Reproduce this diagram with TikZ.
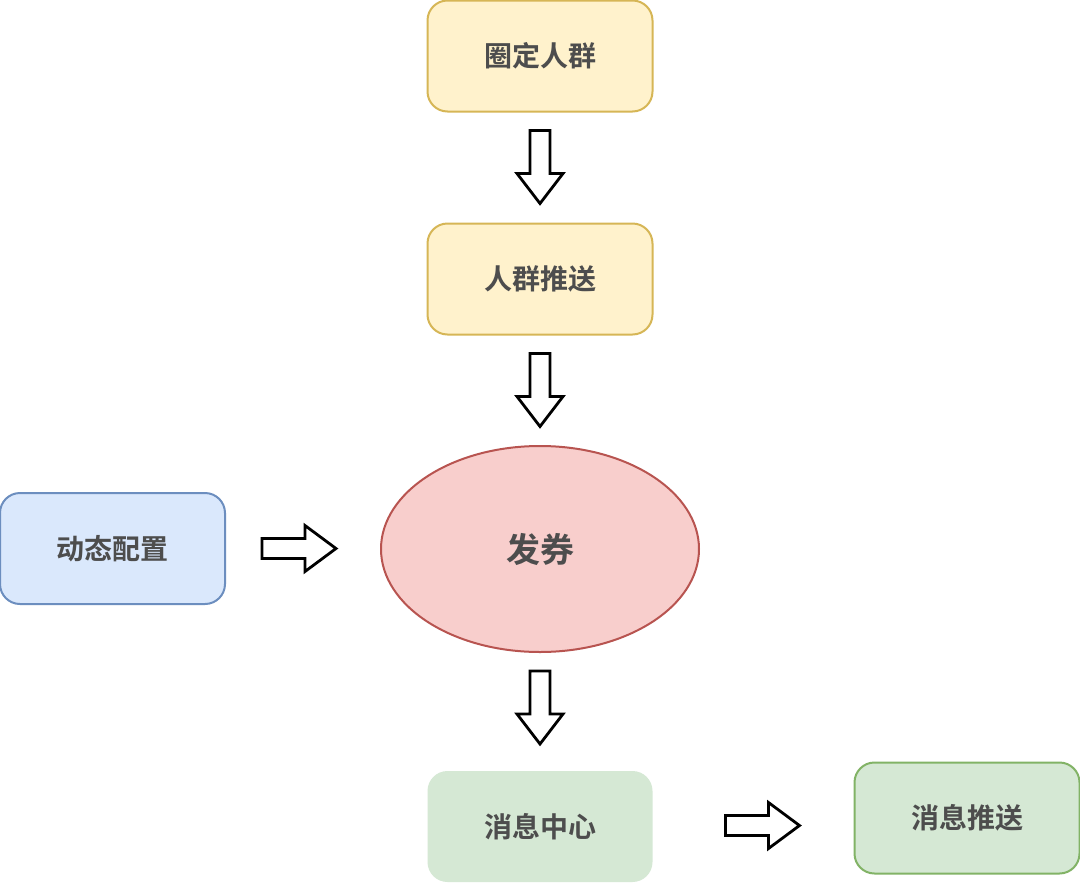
\documentclass[tikz,border=0pt]{standalone}
\usepackage{fontspec}
\newfontfamily\cjk{Noto Sans CJK SC}[BoldFont={Noto Sans CJK SC Bold}]
\usetikzlibrary{calc,shapes.geometric}
\definecolor{txt}{HTML}{4D4D4D}
\definecolor{yfill}{HTML}{FFF2CC}\definecolor{ydraw}{HTML}{D6B656}
\definecolor{rfill}{HTML}{F8CECC}\definecolor{rdraw}{HTML}{B85450}
\definecolor{bfill}{HTML}{DAE8FC}\definecolor{bdraw}{HTML}{6C8EBF}
\definecolor{gfill}{HTML}{D5E8D4}\definecolor{gdraw}{HTML}{82B366}
\tikzset{
  box/.style={rectangle, rounded corners=20pt, line width=2pt, minimum width=225pt, minimum height=111pt,
    inner sep=0pt, font=\cjk\bfseries\fontsize{28}{32}\selectfont, text=txt},
  arrowline/.style={draw=black, fill=white, line width=2.8pt, line join=miter},
  darrow/.pic={\path[arrowline] (-10,0) -- (10,0) -- (10,43) -- (23,43) -- (0,73) -- (-23,43) -- (-10,43) -- cycle;},
  rarrow/.pic={\path[arrowline] (0,-10) -- (0,10) -- (43,10) -- (43,23) -- (74,0) -- (43,-23) -- (43,-10) -- cycle;}
}
\begin{document}
\begin{tikzpicture}[x=1pt,y=-1pt]
\fill[white] (0,0) rectangle (1080,884);
\useasboundingbox (0,0) rectangle (1080,884);
\node[box, fill=yfill, draw=ydraw] (a) at (540,56) {圈定人群};
\node[box, fill=yfill, draw=ydraw] (b) at (540,279) {人群推送};
\node[ellipse, fill=rfill, draw=rdraw, line width=2pt, minimum width=318pt, minimum height=206pt, inner sep=0pt,
  font=\cjk\bfseries\fontsize{34}{38}\selectfont, text=txt] (c) at (540,549) {发券};
\node[box, fill=bfill, draw=bdraw] (d) at (112.5,548.5) {动态配置};
\node[box, fill=gfill, draw=none] (e) at (540,826.5) {消息中心};
\node[box, fill=gfill, draw=gdraw] (f) at (967,818) {消息推送};
\coordinate (a1) at ($(a.south)+(0,18)$);
\coordinate (a2) at ($(b.south)+(0,18)$);
\coordinate (a3) at ($(c.south)+(0,18)$);
\coordinate (a4) at ($(d.east)+(36,0)$);
\coordinate (a5) at ($(e.east)+(72,-1)$);
\pic at (a1) {darrow};
\pic at (a2) {darrow};
\pic at (a3) {darrow};
\pic at (a4) {rarrow};
\pic at (a5) {rarrow};
\end{tikzpicture}
\end{document}
